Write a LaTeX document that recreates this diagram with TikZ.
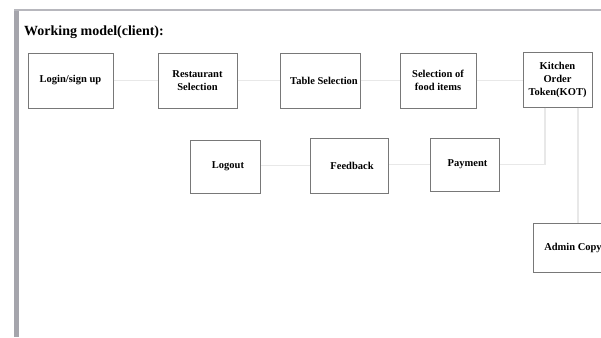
\documentclass[tikz,border=0pt]{standalone}
\usepackage{fontspec}
\setmainfont{Liberation Serif}
\begin{document}
\begin{tikzpicture}[x=1pt,y=1pt,
  box/.style={draw=boxgray, line width=1pt, inner sep=0pt, align=center,
    font=\bfseries\fontsize{10.5}{13}\selectfont},
  link/.style={draw=linkgray, line width=1.6pt}]
\definecolor{boxgray}{RGB}{120,120,120}
\definecolor{linkgray}{RGB}{232,232,232}
\definecolor{bargray}{RGB}{165,165,172}
\useasboundingbox (0,0) rectangle (601,-337);
\fill[white] (0,0) rectangle (601,-337);
% frame
\fill[bargray] (14,-9) rectangle (18.5,-337);
\fill[bargray!80] (14,-9) rectangle (601,-11);
% title
\node[anchor=base west, font=\bfseries\fontsize{14}{16}\selectfont, inner sep=0pt] (title) at (24,-36) {Working model(client):};
% connectors (drawn first, beneath the boxes)
\coordinate (kotdown) at (545,-107);
\coordinate (kotadmin) at (578,-107);
% boxes
\node[box, minimum width=85pt, minimum height=55pt] (login) at (70.5,-80.5) {Login/sign up};
\node[box, minimum width=79pt, minimum height=55pt] (rest) at (197.5,-80.5) {Restaurant\\Selection};
\node[box, minimum width=80pt, minimum height=55pt] (table) at (320,-80.5) {\hspace*{8pt}Table Selection};
\node[box, minimum width=76pt, minimum height=55pt] (food) at (438,-80.5) {Selection of\\food items};
\node[box, minimum width=69pt, minimum height=55pt] (kot) at (557.5,-79.5) {Kitchen\\Order\\Token(KOT)};
\node[box, minimum width=70pt, minimum height=53pt] (logout) at (225,-166.5) {\hspace*{6pt}Logout};
\node[box, minimum width=78pt, minimum height=55pt] (feedback) at (349,-165.5) {\hspace*{6pt}Feedback};
\node[box, minimum width=69pt, minimum height=53pt] (payment) at (464.5,-164.5) {\hspace*{6pt}Payment};
\node[box, minimum width=76pt, minimum height=49pt] (admin) at (571,-247.5) {\hspace*{4pt}Admin Copy};
\path[link] (login) -- (rest);
\path[link] (rest) -- (table);
\path[link] (table) -- (food);
\path[link] (food.east) -- (food.east -| kot.west);
\path[link] (kot.south -| kotdown) |- (payment.east);
\path[link] (payment.west) -- (payment.west -| feedback.east);
\path[link] (feedback.west) -- (feedback.west -| logout.east);
\path[link] (kot.south -| kotadmin) -- (admin.north -| kotadmin);
\end{tikzpicture}
\end{document}
